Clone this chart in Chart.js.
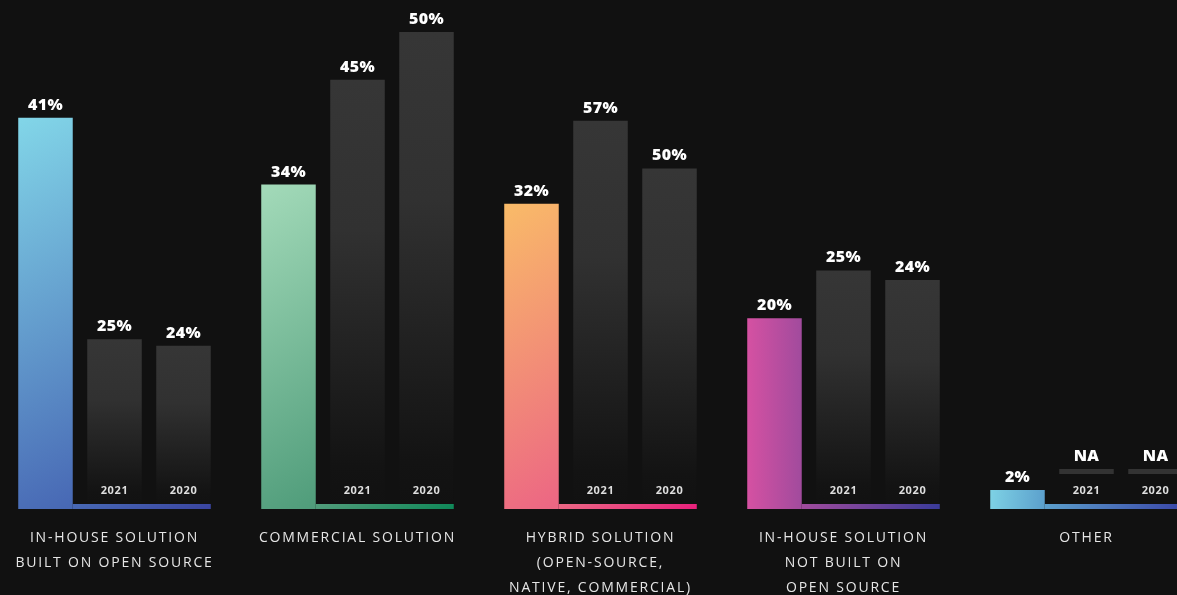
<!DOCTYPE html>
<html><head><meta charset="utf-8">
<script src="https://cdn.jsdelivr.net/npm/chart.js@4.4.1/dist/chart.umd.min.js"></script>
<style>
html,body{margin:0;padding:0;background:#111111;width:1177px;height:595px;overflow:hidden;}
#wrap{position:relative;width:1177px;height:595px;overflow:hidden;background:#111111;}
#c{position:absolute;left:-7px;top:0;}
</style></head><body>
<div id="wrap"><canvas id="c" width="1215" height="595"></canvas></div>
<script>
// ---- data ----
const categories = [
  ["IN-HOUSE SOLUTION", "BUILT ON OPEN SOURCE"],
  ["COMMERCIAL SOLUTION"],
  ["HYBRID SOLUTION", "(OPEN-SOURCE,", "NATIVE, COMMERCIAL)"],
  ["IN-HOUSE SOLUTION", "NOT BUILT ON", "OPEN SOURCE"],
  ["OTHER"]
];
const seriesNames = ["Current", "2021", "2020"];
const currentValues = [41, 34, 32, 20, 2];
const values2021 = [25, 45, 57, 25, null];   // printed values (null = NA)
const values2020 = [24, 50, 50, 24, null];
// bar heights as drawn in the reference graphic (some bars are drawn off-scale there)
const drawn2021 = [17.8, 45, 40.7, 25, null];
const drawn2020 = [17.1, 50, 35.7, 24, null];

// ---- style ----
const Y_MAX = 53.35;
const CAT_PCT = 0.852, BAR_PCT = 0.79;
const NA_BAR = [3.67, 4.19];
const LINE_W = 5;
const groupColors = [
  ['#82d6e8', '#4767b4', '#3a44a0'],
  ['#a3dab9', '#4f9c7a', '#0e8858'],
  ['#f9bb68', '#ec6584', '#e8207c'],
  ['#d551a2', '#a14b9d', '#3a3b99'],
  ['#7ed2e5', '#5b9fcc', '#3a46a8']
];
const horizontalGroups = [false, false, false, true, false];

function geom(chart, i) {
  const xs = chart.scales.x, ys = chart.scales.y;
  const cat = (xs.right - xs.left) / categories.length;
  const slot = cat * CAT_PCT / 3;
  const bw = slot * BAR_PCT;
  const cx = xs.getPixelForValue(i);
  return {
    left: cx - slot - bw / 2,
    barRight: cx - slot + bw / 2,
    end: cx + slot + bw / 2,
    top: ys.getPixelForValue(currentValues[i]),
    base: ys.getPixelForValue(0)
  };
}
function colorGrad(chart, i) {
  const g = geom(chart, i), c = chart.ctx, col = groupColors[i];
  let gr, tb;
  if (horizontalGroups[i]) {
    gr = c.createLinearGradient(g.left, 0, g.end, 0);
    tb = (g.barRight - g.left) / (g.end - g.left);
  } else {
    const dx = g.end - g.left, dy = g.base - g.top;
    gr = c.createLinearGradient(g.left, g.top, g.end, g.base);
    tb = ((g.barRight - g.left) * dx + dy * dy) / (dx * dx + dy * dy);
  }
  gr.addColorStop(0, col[0]);
  gr.addColorStop(Math.min(Math.max(tb, 0.01), 0.99), col[1]);
  gr.addColorStop(1, col[2]);
  return gr;
}
function grayGrad(chart, v) {
  const ys = chart.scales.y, c = chart.ctx;
  const top = ys.getPixelForValue(v), base = ys.getPixelForValue(0);
  const gr = c.createLinearGradient(0, top, 0, base);
  gr.addColorStop(0, '#363636');
  gr.addColorStop(0.35, '#313131');
  gr.addColorStop(0.9, '#131313');
  gr.addColorStop(1, '#111111');
  return gr;
}
function colorBg(ctx) {
  if (ctx.type !== 'data' || !ctx.chart.chartArea) return '#5aa0cc';
  return colorGrad(ctx.chart, ctx.dataIndex);
}
function grayBg(ctx) {
  if (ctx.type !== 'data' || !ctx.chart.chartArea) return '#333333';
  if (Array.isArray(ctx.raw)) return '#333333';
  return grayGrad(ctx.chart, ctx.raw);
}
const toBar = arr => arr.map(v => v === null ? NA_BAR : v);
const printed = [currentValues, values2021, values2020];

const deco = {
  id: 'deco',
  beforeDraw(chart) { chart.ctx.letterSpacing = '1.8px'; },
  beforeDatasetsDraw(chart) { chart.ctx.letterSpacing = '0px'; },
  afterDatasetsDraw(chart) {
    const c = chart.ctx;
    c.save();
    // colored baseline under each group
    for (let i = 0; i < categories.length; i++) {
      const g = geom(chart, i);
      c.fillStyle = colorGrad(chart, i);
      c.fillRect(g.barRight, g.base - LINE_W, g.end - g.barRight, LINE_W);
    }
    c.textAlign = 'center';
    c.textBaseline = 'alphabetic';
    // value labels
    c.fillStyle = '#ffffff';
    c.font = '800 16px "Open Sans"';
    c.letterSpacing = '0.3px';
    for (let d = 0; d < 3; d++) {
      const meta = chart.getDatasetMeta(d);
      meta.data.forEach((el, i) => {
        const v = printed[d][i];
        const txt = v === null ? 'NA' : v + '%';
        c.fillText(txt, el.x, el.y - 8);
      });
    }
    // year labels
    c.fillStyle = '#dedede';
    c.font = '700 11px "Open Sans"';
    c.letterSpacing = '0.6px';
    const base = chart.scales.y.getPixelForValue(0);
    for (let d = 1; d < 3; d++) {
      const meta = chart.getDatasetMeta(d);
      meta.data.forEach(el => { c.fillText(seriesNames[d], el.x, base - 15); });
    }
    c.restore();
  }
};

new Chart(document.getElementById('c'), {
  type: 'bar',
  data: {
    labels: categories,
    datasets: [
      { label: seriesNames[0], data: currentValues, backgroundColor: colorBg, borderWidth: 0 },
      { label: seriesNames[1], data: toBar(drawn2021), backgroundColor: grayBg, borderWidth: 0 },
      { label: seriesNames[2], data: toBar(drawn2020), backgroundColor: grayBg, borderWidth: 0 }
    ]
  },
  options: {
    responsive: false,
    animation: false,
    devicePixelRatio: 1,
    layout: { padding: 0 },
    datasets: { bar: { categoryPercentage: CAT_PCT, barPercentage: BAR_PCT } },
    plugins: { legend: { display: false }, tooltip: { enabled: false } },
    scales: {
      y: { display: false, min: 0, max: Y_MAX },
      x: {
        grid: { display: false, drawTicks: false },
        border: { display: false },
        ticks: {
          color: '#e6e6e6',
          font: { family: '"Open Sans"', size: 14, lineHeight: '25px' },
          padding: 17,
          maxRotation: 0,
          autoSkip: false
        },
        afterFit(scale) { scale.height = 86; }
      }
    }
  },
  plugins: [deco]
});
</script>
</body></html>
